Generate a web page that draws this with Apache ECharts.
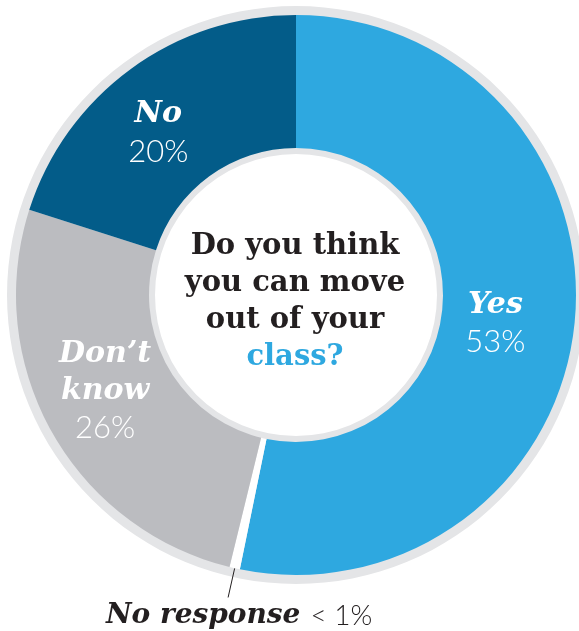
<!DOCTYPE html>
<html>
<head>
<meta charset="utf-8">
<script src="https://cdn.jsdelivr.net/npm/echarts@6/dist/echarts.min.js"></script>
<style>
html,body{margin:0;padding:0;background:#fff;}
#chart{width:579px;height:631px;}
</style>
</head>
<body>
<div id="chart"></div>
<script>
const categories = ['Yes', 'No response', 'Don’t know', 'No'];
const values = [53, 0.6, 26, 20];
const percentLabels = ['53%', '< 1%', '26%', '20%'];
const labelLines = [['Yes'], ['No response'], ['Don’t', 'know'], ['No']];
const questionLines = ['Do you think', 'you can move', 'out of your'];
const questionHighlight = 'class?';

const sliceColors = ['#2EA8E0', '#FFFFFF', '#BBBCC0', '#035C89'];
const ringColor = '#E4E5E7';
const CX = 296, CY = 295;
// small nudges of the in-slice labels (dx, dy)
const labelNudge = [[-16, 7], [16, 4], [-2, -10], [-10, 13]];

const chart = echarts.init(document.getElementById('chart'), null, {renderer: 'canvas'});

const data = categories.map((c, i) => ({
  name: c,
  value: values[i],
  itemStyle: {color: sliceColors[i]},
  label: i === 1 ? {
    show: true,
    position: 'outside',
    formatter: () => '{nr|' + labelLines[i].join(' ') + '}{pr|' + percentLabels[i] + '}',
    rich: {
      nr: {fontFamily: 'DejaVu Serif', fontWeight: 'bold', fontStyle: 'italic', fontSize: 28, color: '#231F20'},
      pr: {fontFamily: 'Lato', fontWeight: 300, fontSize: 28, color: '#231F20', padding: [0, 0, 0, 10]}
    }
  } : {
    show: true,
    position: 'inside',
    formatter: () => labelLines[i].map(s => '{name|' + s + '}').join('\n') + '\n{pct|' + percentLabels[i] + '}'
  },
  labelLine: i === 1 ? {show: true, length: 30, length2: 0, lineStyle: {color: '#231F20', width: 1}} : {show: false}
}));

const option = {
  backgroundColor: '#ffffff',
  animation: false,
  title: {
    text: questionLines.map(s => '{q|' + s + '}').join('\n') + '\n{h|' + questionHighlight + '}',
    left: CX - 6,
    top: CY - 72,
    textAlign: 'center',
    textStyle: {
      rich: {
        q: {fontFamily: 'DejaVu Serif', fontWeight: 'bold', fontSize: 29, color: '#231F20', lineHeight: 37, align: 'center'},
        h: {fontFamily: 'DejaVu Serif', fontWeight: 'bold', fontSize: 29, color: '#2EA8E0', lineHeight: 37, align: 'center'}
      }
    }
  },
  series: [
    {
      type: 'pie',
      silent: true,
      z: 1,
      center: [CX, CY],
      radius: [141, 289],
      label: {show: false},
      labelLine: {show: false},
      data: [{value: 1, itemStyle: {color: ringColor}}]
    },
    {
      type: 'pie',
      z: 2,
      center: [CX, CY],
      radius: [147, 280],
      startAngle: 90,
      clockwise: true,
      avoidLabelOverlap: false,
      label: {
        color: '#fff',
        rich: {
          name: {fontFamily: 'DejaVu Serif', fontWeight: 'bold', fontStyle: 'italic', fontSize: 30, color: '#fff', lineHeight: 37, align: 'center'},
          pct: {fontFamily: 'Lato', fontWeight: 300, fontSize: 31, color: '#fff', lineHeight: 37, align: 'center'}
        }
      },
      labelLayout: function (p) {
        const n = labelNudge[p.dataIndex];
        if (p.dataIndex === 1) {
          return {align: 'center', verticalAlign: 'top', dx: n[0], dy: n[1]};
        }
        return {dx: n[0], dy: n[1]};
      },
      emphasis: {disabled: true},
      data: data
    }
  ]
};
chart.setOption(option);
</script>
</body>
</html>
